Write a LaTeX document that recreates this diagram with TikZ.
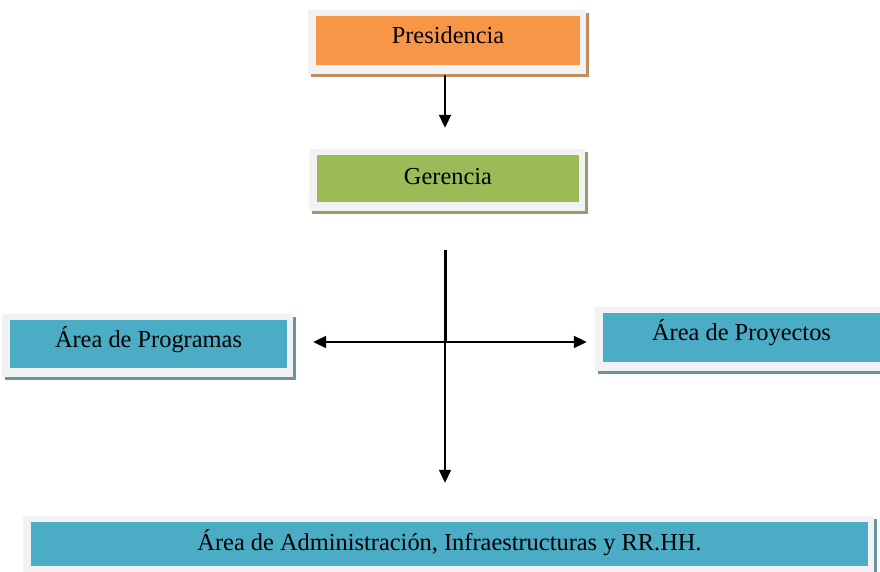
\documentclass[tikz,border=0pt]{standalone}
\usepackage{fontspec}
\setmainfont{Liberation Serif}
\usetikzlibrary{arrows.meta,backgrounds}
\definecolor{orgfill}{HTML}{F79646}
\definecolor{grnfill}{HTML}{9BBB59}
\definecolor{blufill}{HTML}{4BACC6}
\definecolor{framecol}{HTML}{F2F2F2}
\newcommand\frameit[2]{%
  \begin{scope}[on background layer]
    \fill[#2] ([xshift=-5pt,yshift=3pt]#1.north west) rectangle ([xshift=9pt,yshift=-12pt]#1.south east);
    \fill[framecol] ([xshift=-8pt,yshift=6pt]#1.north west) rectangle ([xshift=6pt,yshift=-9pt]#1.south east);
  \end{scope}}
\begin{document}
\begin{tikzpicture}[x=1pt,y=-1pt,
  box/.style={inner sep=0pt, font=\fontsize{24.4}{28}\selectfont, text=black,
    text height=17pt, text depth=11pt},
  centred/.style={text depth=5pt},
  conn/.style={line width=2pt, -{Triangle[length=13pt,width=12pt]}}]
\begin{scope}[on background layer]
\fill[white] (0,0) rectangle (880,572);
\end{scope}
\useasboundingbox (0,0) rectangle (880,572);
\node[box, fill=orgfill, minimum width=264pt, minimum height=49pt] (pres) at (448,40.5) {Presidencia};
\node[box, centred, fill=grnfill, minimum width=262pt, minimum height=47pt] (ger) at (448,178.5) {Gerencia};
\node[box, fill=blufill, minimum width=277pt, minimum height=48pt] (prog) at (148.5,344) {Área de Programas};
\node[box, fill=blufill, minimum width=277pt, minimum height=49pt] (proy) at (741.5,337.5) {Área de Proyectos};
\node[box, centred, fill=blufill, minimum width=837pt, minimum height=44pt] (admin) at (449.5,544) {Área de Administración, Infraestructuras y RR.HH.};
\frameit{pres}{orgfill!55!gray}
\frameit{ger}{grnfill!55!gray}
\frameit{prog}{blufill!45!gray}
\frameit{proy}{blufill!45!gray}
\frameit{admin}{blufill!45!gray}
\draw[conn] ([xshift=-3pt,yshift=-10pt]pres.south) -- ([xshift=-3pt,yshift=27pt]ger.north);
\coordinate (top) at (445,250);
\coordinate (hub) at (445,342);
\draw[line width=3pt] (top) -- (hub);
\draw[conn] (hub) -- ([xshift=26pt]prog.east |- hub);
\draw[conn] (hub) -- ([xshift=-16pt]proy.west |- hub);
\draw[conn, line width=1.5pt] (hub) -- ([yshift=39pt]admin.north -| hub);
\end{tikzpicture}
\end{document}
